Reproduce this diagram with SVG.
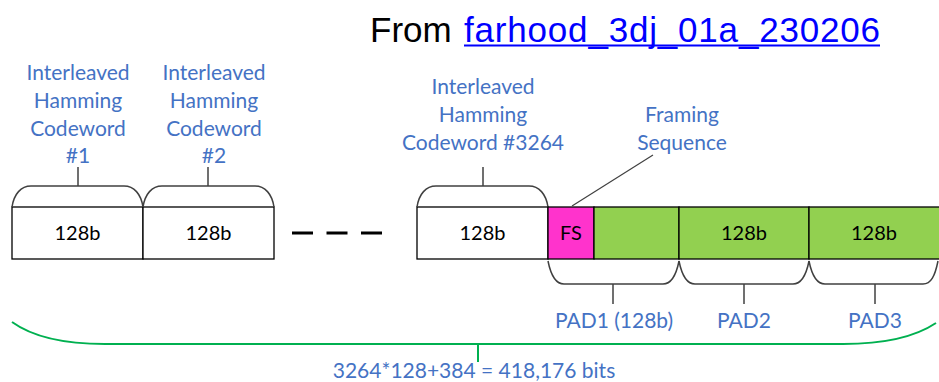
<svg xmlns="http://www.w3.org/2000/svg" width="939" height="382" viewBox="0 0 939 382">
  <style>
    .lbl { font-family: Lato, "Open Sans", sans-serif; font-size: 21px; fill: #4472C4; text-anchor: middle; }
    .cell { font-family: Lato, "Open Sans", sans-serif; font-size: 20px; fill: #000; text-anchor: middle; }
    .box { stroke: #000; stroke-width: 1.3; }
    .brace { fill: none; stroke: #404040; stroke-width: 1.5; }
    .tick { stroke: #404040; stroke-width: 1.5; }
    .title { font-family: "Liberation Sans", Arial, sans-serif; font-size: 35px; }
  </style>

  <!-- heading -->
  <g id="title">
    <text class="title" x="370" y="42" fill="#000">From</text>
    <text class="title" x="464" y="42" fill="#0000FF" textLength="416" lengthAdjust="spacing">farhood_3dj_01a_230206</text>
    <rect x="464" y="44.5" width="416" height="2" fill="#0000FF"/>
  </g>

  <!-- codeword #1 -->
  <g id="codeword1">
    <rect class="box" x="12" y="207" width="131" height="52" fill="#fff"/>
    <text class="cell" x="77.5" y="240">128b</text>
    <path class="brace" d="M12,207 C14,194 21,186 31,186 L124,186 C134,186 141,194 143,207"/>
    <line class="tick" x1="78" y1="186" x2="78" y2="167"/>
    <text class="lbl" x="78" y="80">Interleaved</text>
    <text class="lbl" x="78" y="108">Hamming</text>
    <text class="lbl" x="78" y="136">Codeword</text>
    <text class="lbl" x="78" y="163">#1</text>
  </g>

  <!-- codeword #2 -->
  <g id="codeword2">
    <rect class="box" x="143" y="207" width="131" height="52" fill="#fff"/>
    <text class="cell" x="208.5" y="240">128b</text>
    <path class="brace" d="M143,207 C145,194 152,186 162,186 L255,186 C265,186 272,194 274,207"/>
    <line class="tick" x1="208" y1="186" x2="208" y2="167"/>
    <text class="lbl" x="214" y="80">Interleaved</text>
    <text class="lbl" x="214" y="108">Hamming</text>
    <text class="lbl" x="214" y="136">Codeword</text>
    <text class="lbl" x="214" y="163">#2</text>
  </g>

  <!-- elided codewords -->
  <g id="ellipsis">
    <line x1="292" y1="233" x2="383" y2="233" stroke="#000" stroke-width="3" stroke-dasharray="21 13.5"/>
  </g>

  <!-- codeword #3264 -->
  <g id="codeword3264">
    <rect class="box" x="417" y="207" width="131" height="52" fill="#fff"/>
    <text class="cell" x="482.5" y="240">128b</text>
    <path class="brace" d="M417,207 C419,194 426,186 436,186 L529,186 C539,186 546,194 548,207"/>
    <line class="tick" x1="483" y1="186" x2="483" y2="167"/>
    <text class="lbl" x="483" y="94">Interleaved</text>
    <text class="lbl" x="483" y="122">Hamming</text>
    <text class="lbl" x="483" y="150">Codeword #3264</text>
  </g>

  <!-- framing sequence -->
  <g id="framing">
    <rect class="box" x="548" y="207" width="46" height="52" fill="#FF33CC"/>
    <text class="cell" x="571" y="240">FS</text>
    <text class="lbl" x="682" y="122">Framing</text>
    <text class="lbl" x="682" y="150">Sequence</text>
  </g>

  <!-- padding -->
  <g id="pad">
    <rect class="box" x="594" y="207" width="85" height="52" fill="#92D050"/>
    <rect class="box" x="679" y="207" width="130" height="52" fill="#92D050"/>
    <rect class="box" x="809" y="207" width="140" height="52" fill="#92D050"/>
    <text class="cell" x="744" y="240">128b</text>
    <text class="cell" x="874" y="240">128b</text>
  </g>

  <g id="pad1">
    <path class="brace" d="M548,261 C551,276 556,284 564,284 L663,284 C671,284 676,276 679,261"/>
    <line class="tick" x1="613" y1="284" x2="613" y2="304"/>
    <text class="lbl" x="614" y="328">PAD1 (128b)</text>
  </g>
  <g id="pad2">
    <path class="brace" d="M679,261 C682,276 687,284 695,284 L793,284 C801,284 806,276 809,261"/>
    <line class="tick" x1="744" y1="284" x2="744" y2="304"/>
    <text class="lbl" x="744" y="328">PAD2</text>
  </g>
  <g id="pad3">
    <path class="brace" d="M809,261 C812,276 817,284 825,284 L923,284 C931,284 935,276 938,261"/>
    <line class="tick" x1="875" y1="284" x2="875" y2="304"/>
    <text class="lbl" x="875" y="328">PAD3</text>
  </g>

  <!-- callout and total span -->
  <g id="connectors">
    <line x1="572" y1="206" x2="653" y2="155" stroke="#404040" stroke-width="1.2"/>
    <path d="M12,322 C30,335 60,344 105,344 L843,344 C885,344 915,337 936,323" fill="none" stroke="#00B050" stroke-width="2"/>
    <line x1="478" y1="344" x2="478" y2="362" stroke="#00B050" stroke-width="2"/>
  </g>

  <g id="total">
    <text class="lbl" x="474" y="378">3264*128+384 = 418,176 bits</text>
  </g>
</svg>
